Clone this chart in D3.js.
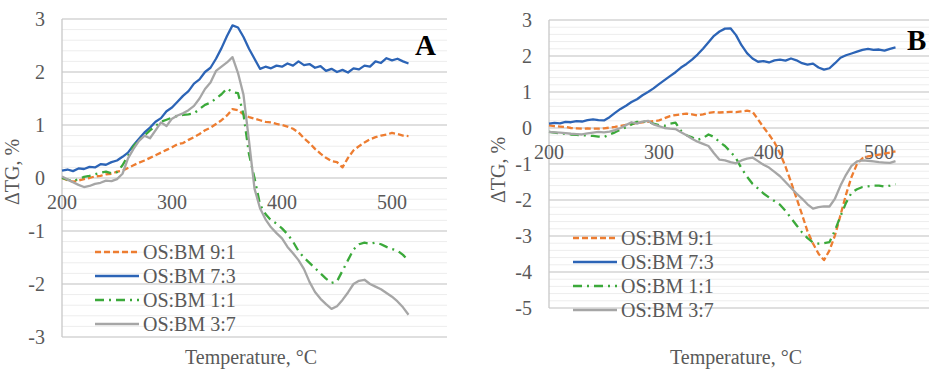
<!DOCTYPE html>
<html><head><meta charset="utf-8">
<script src="https://cdn.jsdelivr.net/npm/d3@7"></script>
<style>body{margin:0;background:#fff;}svg{display:block;}</style>
</head><body>
<svg id="c" width="929" height="371"></svg>
<script>
const temps = [200,205,210,215,220,225,230,235,240,245,250,255,260,265,270,275,280,285,290,295,300,305,310,315,320,325,330,335,340,345,350,355,360,365,370,375,380,385,390,395,400,405,410,415,420,425,430,435,440,445,450,455,460,465,470,475,480,485,490,495,500,505,510,515];
const seriesNames = ["OS:BM 9:1","OS:BM 7:3","OS:BM 1:1","OS:BM 3:7"];
const xTicks = [200,300,400,500];
const yTicksA = [-3,-2,-1,0,1,2,3];
const yTicksB = [-5,-4,-3,-2,-1,0,1,2,3];

// Panel A
const a91 = [0.0,-0.04,-0.07,-0.05,-0.02,0.0,0.03,0.04,0.07,0.08,0.12,0.14,0.19,0.24,0.29,0.33,0.38,0.43,0.48,0.53,0.58,0.64,0.66,0.72,0.77,0.83,0.9,0.95,1.02,1.09,1.18,1.3,1.28,1.2,1.15,1.12,1.09,1.06,1.05,1.02,1.0,0.97,0.93,0.86,0.75,0.66,0.55,0.46,0.38,0.32,0.3,0.2,0.38,0.52,0.6,0.67,0.73,0.77,0.8,0.82,0.85,0.83,0.8,0.79];
const a73 = [0.14,0.16,0.13,0.18,0.17,0.21,0.20,0.26,0.25,0.30,0.33,0.40,0.48,0.62,0.74,0.86,0.95,1.06,1.13,1.26,1.33,1.44,1.55,1.64,1.78,1.86,2.0,2.08,2.25,2.45,2.68,2.88,2.84,2.66,2.44,2.25,2.06,2.1,2.07,2.12,2.1,2.16,2.12,2.2,2.13,2.15,2.08,2.11,2.02,2.06,2.0,2.04,1.99,2.07,2.05,2.12,2.1,2.2,2.17,2.26,2.22,2.25,2.2,2.16];
const a11 = [0.0,-0.03,-0.06,-0.02,0.02,0.04,0.07,0.1,0.12,0.09,0.11,0.24,0.42,0.6,0.72,0.8,0.9,0.98,1.06,1.1,1.14,1.17,1.19,1.2,1.22,1.3,1.38,1.42,1.5,1.58,1.69,1.62,1.6,1.2,0.45,0.0,-0.5,-0.68,-0.8,-0.86,-0.95,-1.06,-1.2,-1.38,-1.5,-1.6,-1.7,-1.8,-1.9,-1.98,-1.95,-1.75,-1.55,-1.35,-1.25,-1.22,-1.24,-1.22,-1.25,-1.3,-1.34,-1.37,-1.45,-1.56];
const a37 = [0.03,-0.03,-0.08,-0.13,-0.17,-0.15,-0.11,-0.09,-0.05,-0.06,-0.02,0.08,0.37,0.55,0.7,0.8,0.75,0.9,1.05,0.98,1.12,1.18,1.22,1.28,1.36,1.5,1.68,1.8,2.02,2.1,2.18,2.28,1.98,1.57,0.7,-0.2,-0.57,-0.78,-0.93,-1.04,-1.14,-1.3,-1.42,-1.55,-1.72,-1.96,-2.15,-2.28,-2.38,-2.47,-2.42,-2.3,-2.16,-2.0,-1.94,-1.92,-2.0,-2.05,-2.1,-2.17,-2.24,-2.33,-2.44,-2.58];

// Panel B
const b91 = [0.07,0.05,0.04,0.03,0.0,-0.01,-0.02,-0.01,-0.02,-0.02,-0.01,0.01,0.03,0.06,0.09,0.11,0.14,0.16,0.17,0.19,0.21,0.27,0.33,0.36,0.38,0.4,0.38,0.35,0.38,0.42,0.44,0.43,0.44,0.45,0.44,0.46,0.48,0.45,0.24,0.02,-0.18,-0.4,-0.7,-1.07,-1.5,-1.95,-2.4,-2.87,-3.21,-3.49,-3.67,-3.4,-2.98,-2.42,-1.85,-1.36,-1.0,-0.84,-0.79,-0.77,-0.74,-0.71,-0.68,-0.65];
const b73 = [0.12,0.14,0.13,0.17,0.16,0.19,0.18,0.22,0.24,0.22,0.21,0.3,0.42,0.53,0.62,0.72,0.8,0.91,1.0,1.1,1.22,1.33,1.44,1.55,1.68,1.78,1.9,2.04,2.2,2.38,2.56,2.68,2.76,2.77,2.58,2.3,2.08,1.93,1.84,1.86,1.82,1.88,1.9,1.87,1.93,1.88,1.8,1.76,1.79,1.68,1.62,1.66,1.8,1.95,2.02,2.07,2.12,2.17,2.2,2.17,2.18,2.15,2.2,2.24];
const b11 = [-0.11,-0.13,-0.15,-0.16,-0.18,-0.19,-0.2,-0.21,-0.22,-0.24,-0.25,-0.18,-0.12,-0.05,0.02,0.1,0.17,0.18,0.17,0.12,0.08,0.06,0.12,0.15,-0.08,-0.2,-0.26,-0.33,-0.28,-0.18,-0.25,-0.39,-0.5,-0.66,-0.84,-1.12,-1.35,-1.55,-1.68,-1.82,-1.93,-2.03,-2.13,-2.3,-2.5,-2.7,-2.9,-3.06,-3.18,-3.21,-3.2,-3.17,-2.84,-2.45,-2.08,-1.8,-1.7,-1.64,-1.62,-1.6,-1.6,-1.63,-1.6,-1.56];
const b37 = [-0.11,-0.12,-0.13,-0.14,-0.16,-0.17,-0.18,-0.15,-0.13,-0.11,-0.12,-0.1,-0.06,0.0,0.08,0.16,0.12,0.18,0.2,0.1,0.05,0.0,-0.02,-0.03,-0.12,-0.2,-0.3,-0.38,-0.44,-0.5,-0.7,-0.88,-0.9,-0.95,-0.98,-0.9,-0.85,-0.82,-0.92,-1.02,-1.1,-1.22,-1.34,-1.5,-1.66,-1.82,-1.96,-2.12,-2.24,-2.2,-2.18,-2.18,-1.96,-1.6,-1.3,-1.05,-0.93,-0.9,-0.91,-0.93,-0.95,-0.96,-0.97,-0.92];

const colors = ["#ED7D31","#2C64B6","#3BA93A","#A6A6A6"];
const dashes = ["6,3",null,"9,5,2,5",null];
const FONT = "'Liberation Serif','Times New Roman',serif";
const TXT = "#595959";

const svg = d3.select("#c");

function panel(opt){
  const g = svg.append("g");
  const x = d3.scaleLinear().domain([200,550]).range([opt.left, opt.left + 385]);
  const y = d3.scaleLinear().domain(opt.yDomain).range([opt.bottom, opt.top]);
  const [y0, y1] = opt.yDomain;
  // minor grid
  const minor = d3.range(Math.round((y1 - y0) / 0.2) + 1).map(i => y0 + i * 0.2).filter(v => Math.abs(v - Math.round(v)) > 1e-6);
  g.append("g").selectAll("line").data(minor).join("line")
    .attr("x1", x(200)).attr("x2", x(550))
    .attr("y1", d => y(d)).attr("y2", d => y(d))
    .attr("stroke", "#ededed").attr("stroke-width", 1);
  // major grid
  g.append("g").selectAll("line").data(opt.yTicks).join("line")
    .attr("x1", x(200)).attr("x2", x(550))
    .attr("y1", d => y(d)).attr("y2", d => y(d))
    .attr("stroke", "#d4d4d4").attr("stroke-width", 1.3);
  // left axis line
  g.append("line").attr("x1", x(200)).attr("x2", x(200)).attr("y1", y(y0)).attr("y2", y(y1))
    .attr("stroke", "#c8c8c8").attr("stroke-width", 1.3);
  // y tick labels
  g.append("g").selectAll("text").data(opt.yTicks).join("text")
    .attr("x", x(200) - 17).attr("y", d => y(d)).attr("dy", "0.35em")
    .attr("text-anchor", "end").attr("font-family", FONT).attr("font-size", 20).attr("fill", TXT)
    .text(d => d);
  // x tick labels along y=0
  g.append("g").selectAll("text").data(xTicks).join("text")
    .attr("x", d => x(d)).attr("y", y(0) + 31)
    .attr("text-anchor", "middle").attr("font-family", FONT).attr("font-size", 20).attr("fill", TXT)
    .text(d => d);
  // lines
  const line = d3.line().x((d, i) => x(temps[i])).y(d => y(d));
  opt.series.forEach((s, k) => {
    g.append("path").datum(s).attr("d", line).attr("fill", "none")
      .attr("stroke", colors[k]).attr("stroke-width", 2.3)
      .attr("stroke-dasharray", dashes[k]).attr("stroke-linejoin", "round");
  });
  // legend
  const lg = g.append("g");
  seriesNames.forEach((n, k) => {
    const yy = opt.legY + k * 24;
    lg.append("line").attr("x1", opt.legX).attr("x2", opt.legX + 44).attr("y1", yy).attr("y2", yy)
      .attr("stroke", colors[k]).attr("stroke-width", 2.3).attr("stroke-dasharray", dashes[k]);
    lg.append("text").attr("x", opt.legX + 48).attr("y", yy).attr("dy", "0.35em")
      .attr("font-family", FONT).attr("font-size", 20).attr("fill", TXT).text(n);
  });
  // axis titles
  g.append("text").attr("transform", `translate(${opt.yTitleX},${opt.yTitleY}) rotate(-90)`)
    .attr("text-anchor", "middle").attr("font-family", FONT).attr("font-size", 20).attr("fill", TXT)
    .text("ΔTG, %");
  g.append("text").attr("x", opt.xTitleX).attr("y", 364)
    .attr("text-anchor", "middle").attr("font-family", FONT).attr("font-size", 20).attr("fill", TXT)
    .text("Temperature, °C");
  g.append("text").attr("x", opt.labX).attr("y", opt.labY)
    .attr("font-family", FONT).attr("font-size", 29).attr("font-weight", "bold").attr("fill", "#000")
    .text(opt.label);
}

panel({left: 62, top: 19, bottom: 337, yDomain: [-3, 3], yTicks: yTicksA,
  series: [a91, a73, a11, a37], legX: 95, legY: 252,
  yTitleX: 19, yTitleY: 172, xTitleX: 251, labX: 415, labY: 55, label: "A"});
panel({left: 549, top: 20, bottom: 308, yDomain: [-5, 3], yTicks: yTicksB,
  series: [b91, b73, b11, b37], legX: 573, legY: 238,
  yTitleX: 505, yTitleY: 170, xTitleX: 736, labX: 907, labY: 50, label: "B"});
</script>
</body></html>
